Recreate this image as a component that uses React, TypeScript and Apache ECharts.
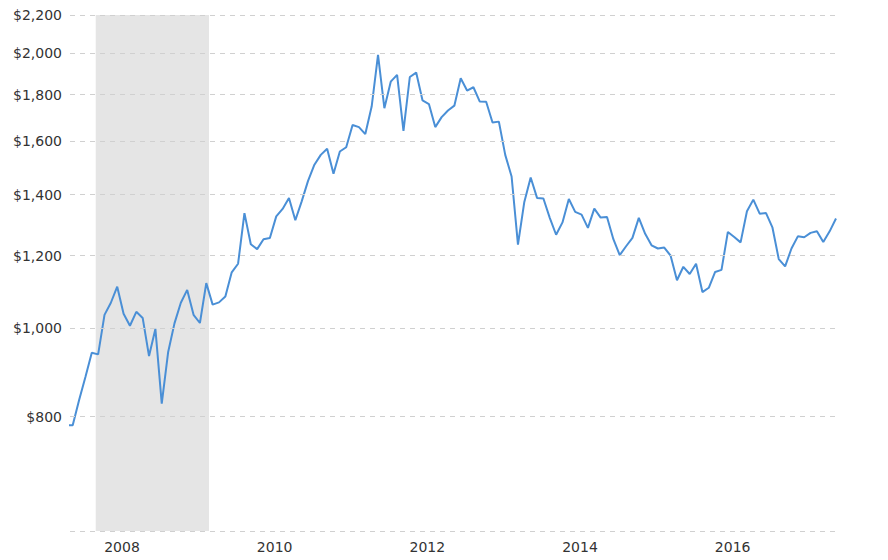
import React, { useEffect, useRef } from 'react';
import * as echarts from 'echarts';

// Monthly gold price (inflation-adjusted, USD/oz), month index -1 .. 120
const startIndex = -1;
const goldPrice = [
  783, 783, 834, 884, 940, 936, 1034, 1066, 1110, 1037, 1006, 1042, 1026, 932, 998, 827,
  941, 1012, 1066, 1101, 1034, 1013, 1120, 1061, 1067, 1083, 1151, 1176, 1336, 1235,
  1220, 1251, 1255, 1325, 1350, 1388, 1312, 1376, 1449, 1509, 1547, 1571, 1475, 1560,
  1577, 1668, 1659, 1630, 1747, 1990, 1740, 1860, 1892, 1643, 1882, 1903, 1774, 1758,
  1659, 1701, 1730, 1751, 1876, 1819, 1834, 1769, 1768, 1678, 1682, 1547, 1465, 1234,
  1374, 1461, 1388, 1386, 1320, 1265, 1305, 1384, 1340, 1331, 1287, 1351, 1321, 1323,
  1251, 1202, 1229, 1255, 1320, 1268, 1232, 1222, 1225, 1200, 1128, 1167, 1146, 1176,
  1095, 1107, 1152, 1158, 1274, 1258, 1241, 1342, 1382, 1334, 1336, 1289, 1190, 1168,
  1222, 1260, 1257, 1271, 1276, 1242, 1276, 1318,
];

// Axis ticks
const yTickValues = [800, 1000, 1200, 1400, 1600, 1800, 2000, 2200];
const yMin = 600;
const yMax = 2200;
const xLabels = ['2008', '2010', '2012', '2014', '2016'];
const xLabelPositions = [7.75, 31.75, 55.75, 79.75, 103.75];
const xMin = -0.424;
const xMax = 120;

// Recession band (month index)
const recession = [3.62, 21.43];

function fmtDollar(v: number): string {
  const p = Math.round(Math.pow(10, v) / 10) * 10;
  return '$' + String(p).replace(/\B(?=(\d{3})+(?!\d))/g, ',');
}

export default function App() {
  const ref = useRef<HTMLDivElement>(null);
  useEffect(() => {
    if (!ref.current) return;
    const chart = echarts.init(ref.current, null, { renderer: 'svg' });
    const data = goldPrice.map((v, k) => [k + startIndex, Math.log10(v)]);
    const font = 'DejaVu Sans, Verdana, sans-serif';
    chart.setOption({
      animation: false,
      backgroundColor: '#ffffff',
      grid: { left: 70, right: 52, top: 15, bottom: 29, containLabel: false },
      xAxis: {
        type: 'value',
        min: xMin,
        max: xMax,
        axisLine: { show: false },
        axisTick: { show: false },
        splitLine: { show: false },
        axisLabel: {
          customValues: xLabelPositions,
          margin: 9,
          fontSize: 14,
          fontFamily: font,
          color: '#333333',
          formatter: (v: number) => {
            let best = 0;
            for (let k = 1; k < xLabelPositions.length; k++) {
              if (Math.abs(xLabelPositions[k] - v) < Math.abs(xLabelPositions[best] - v)) best = k;
            }
            return xLabels[best];
          },
        },
      },
      yAxis: {
        type: 'value',
        min: Math.log10(yMin),
        max: Math.log10(yMax),
        z: 5,
        axisLine: { show: false },
        axisTick: { show: false, customValues: [yMin, ...yTickValues].map((v) => Math.log10(v)) },
        splitLine: {
          show: true,
          lineStyle: { color: '#d0d0d0', type: [5, 5], width: 1 },
        },
        axisLabel: {
          customValues: yTickValues.map((v) => Math.log10(v)),
          margin: 8,
          fontSize: 14,
          fontFamily: font,
          color: '#333333',
          formatter: (v: number) => fmtDollar(v),
        },
      },
      series: [
        {
          name: 'gold',
          type: 'line',
          data,
          z: 2,
          symbol: 'none',
          clip: true,
          lineStyle: { color: '#4a8fd6', width: 2 },
          itemStyle: { color: '#4a8fd6' },
          markArea: {
            silent: true,
            itemStyle: { color: 'rgba(0,0,0,0.1)' },
            data: [[{ xAxis: recession[0] }, { xAxis: recession[1] }]],
          },
        },
      ],
    });
    return () => chart.dispose();
  }, []);
  return (
    <div
      ref={ref}
      style={{ position: 'absolute', left: 0, top: 0, width: 888, height: 560 }}
    />
  );
}
